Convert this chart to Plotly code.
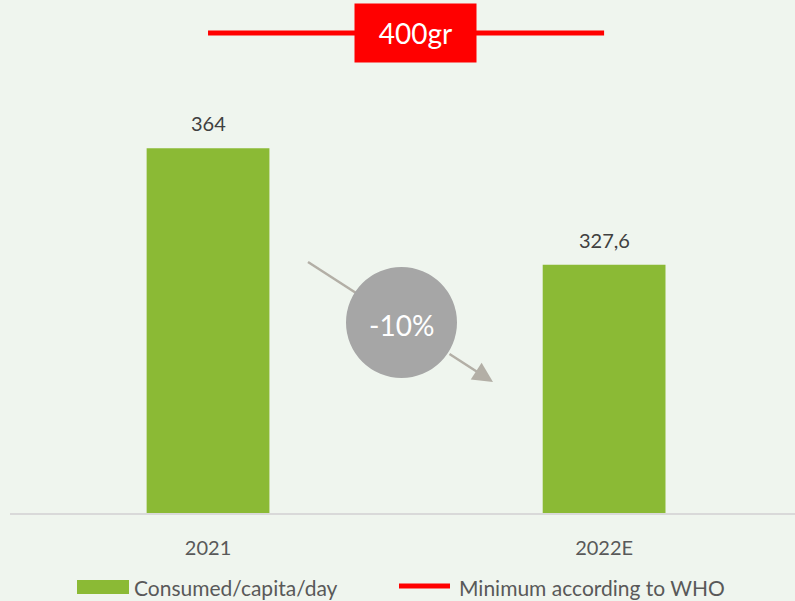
import plotly.graph_objects as go

BG = "#EFF5EE"
GREEN = "#8BBA35"
RED = "#FF0000"
GREY = "#A6A6A6"
ARROW = "#B3AFA6"
TEXT = "#595959"
FONT = "Lato, Open Sans, sans-serif"

W, H = 795, 601
M_L, M_R, M_T, M_B = 10, 0, 0, 88

categories = ["2021", "2022E"]
consumed = [364, 327.6]
consumed_labels = ["364", "327,6"]
who_minimum = [400, 400]
who_label = "400gr"
change_label = "-10%"


def px_x(p):
    return (p - M_L) / (W - M_L - M_R)


def px_y(p):
    return (H - M_B - p) / (H - M_T - M_B)


fig = go.Figure()
fig.add_trace(go.Bar(
    x=categories, y=consumed, width=0.31,
    marker=dict(color=GREEN, line=dict(width=0)),
    name="Consumed/capita/day", showlegend=False,
))
fig.add_trace(go.Scatter(
    x=categories, y=who_minimum, mode="lines",
    line=dict(color=RED, width=5),
    name="Minimum according to WHO", showlegend=False,
))

annotations = []
for i, (v, lab) in enumerate(zip(consumed, consumed_labels)):
    annotations.append(dict(x=i, y=v, text=lab, showarrow=False, yanchor="bottom",
                            yshift=11, font=dict(size=20, color="#404040", family=FONT)))

# 400gr box on the WHO line
annotations.append(dict(x=0.524, y=who_minimum[0], text=who_label, showarrow=False,
                        bgcolor=RED, width=121, height=58, borderpad=0,
                        font=dict(size=28, color="white", family=FONT)))

# arrow head part (tail starts at the circle edge)
annotations.append(dict(xref="paper", yref="paper", x=px_x(493), y=px_y(382),
                        ax=-45, ay=-29, showarrow=True, arrowhead=2, arrowsize=1.6,
                        arrowwidth=2.5, arrowcolor=ARROW, text=""))
annotations.append(dict(xref="paper", yref="paper", x=px_x(401.5), y=px_y(325),
                        text=change_label, showarrow=False,
                        font=dict(size=28, color="white", family=FONT)))

# legend drawn by hand
annotations.append(dict(xref="paper", yref="paper", x=px_x(132), y=px_y(587),
                        xanchor="left", yanchor="middle", text="Consumed/capita/day",
                        showarrow=False, font=dict(size=21, color=TEXT, family=FONT)))
annotations.append(dict(xref="paper", yref="paper", x=px_x(457), y=px_y(587),
                        xanchor="left", yanchor="middle", text="Minimum according to WHO",
                        showarrow=False, font=dict(size=21, color=TEXT, family=FONT)))

shapes = [
    dict(type="line", xref="paper", yref="paper", x0=px_x(308), y0=px_y(262),
         x1=px_x(401), y1=px_y(322), line=dict(color=ARROW, width=2.5)),
    dict(type="circle", xref="paper", yref="paper", x0=px_x(346), x1=px_x(457),
         y0=px_y(378), y1=px_y(267), fillcolor=GREY, line=dict(width=0)),
    dict(type="rect", xref="paper", yref="paper", x0=px_x(77), x1=px_x(129),
         y0=px_y(594), y1=px_y(580), fillcolor=GREEN, line=dict(width=0)),
    dict(type="line", xref="paper", yref="paper", x0=px_x(399), x1=px_x(450),
         y0=px_y(586), y1=px_y(586), line=dict(color=RED, width=5)),
]

fig.update_layout(
    width=W, height=H,
    paper_bgcolor=BG, plot_bgcolor=BG,
    margin=dict(l=M_L, r=M_R, t=M_T, b=M_B),
    font=dict(family=FONT, color=TEXT),
    annotations=annotations, shapes=shapes,
    showlegend=False,
)
fig.update_xaxes(range=[-0.5, 1.482], showgrid=False, zeroline=False,
                 showline=True, linecolor="#D9D9D9", linewidth=2,
                 tickfont=dict(size=20, color=TEXT, family=FONT), ticklabelstandoff=16)
fig.update_yaxes(range=[250, 410.3], visible=False)

# page has a default body margin; drop it so the figure fills the window
fig.write_html("out.html", config={"displayModeBar": False},
               post_script="document.body.style.margin='0';")
